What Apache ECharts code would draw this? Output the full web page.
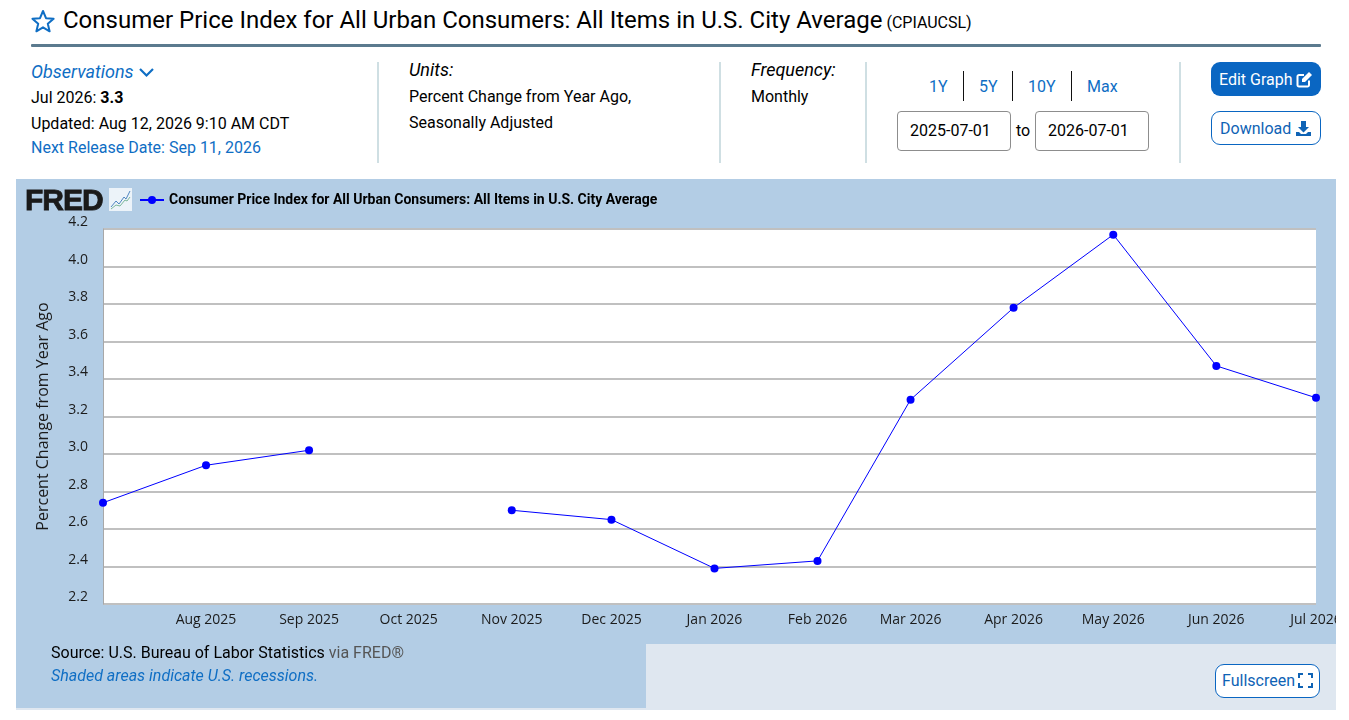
<!DOCTYPE html>
<html><head><meta charset="utf-8">
<script src="https://cdn.jsdelivr.net/npm/echarts@6/dist/echarts.min.js"></script>
<style>
html,body{margin:0;padding:0;background:#fff;width:1349px;height:720px;overflow:hidden;font-family:Roboto,sans-serif;color:#000}
.t{position:absolute;white-space:nowrap;line-height:20px;font-size:16px}
.link{color:#0f6ec4}
.sep{position:absolute;top:62px;height:101px;width:2px;background:#cfdfe3}
.pipe{position:absolute;top:71px;height:30px;width:1px;background:#111}
.inp{position:absolute;top:111px;width:112px;height:38px;border:1px solid #8d8d8d;border-radius:4px;text-align:left;text-indent:12px;line-height:38px;font-size:16px}
.btn{position:absolute;border-radius:9px;box-sizing:border-box;text-align:left;font-size:16px;white-space:nowrap}
#chart{position:absolute;left:16px;top:179px;width:1320px;height:531px}
#foot{position:absolute;left:646px;top:644px;width:690px;height:64px;background:#dfe7f0}
#strip{position:absolute;left:16px;top:708px;width:1320px;height:2px;background:#dfe7f0}
</style></head><body>
<svg style="position:absolute;left:31px;top:9px" width="24" height="24" viewBox="0 0 24 24"><path d="M12 2l3 7.2 7.6.6-5.8 5 1.8 7.5L12 18.300l-6.600 4 1.800-7.500-5.800-5L9 9.200z" fill="none" stroke="#0f6ec4" stroke-width="2" stroke-linejoin="round"/></svg>
<div class="t" style="left:63px;top:5px;font-size:24px;line-height:30px">Consumer Price Index for All Urban Consumers: All Items in U.S. City Average<span style="font-size:16px;margin-left:4px">(CPIAUCSL)</span></div>
<div style="position:absolute;left:31px;top:44px;width:1290px;height:3px;background:#5b7a8e;border-radius:1px"></div>

<div class="t link" style="left:31px;top:62px;font-size:18px;font-style:italic">Observations</div>
<svg style="position:absolute;left:138px;top:67px" width="17" height="11" viewBox="0 0 17 11"><path d="M2 2l6.500 6.500L15 2" fill="none" stroke="#0f6ec4" stroke-width="2.200"/></svg>
<div class="t" style="left:31px;top:88px">Jul 2026: <b>3.3</b></div>
<div class="t" style="left:31px;top:114px">Updated: Aug 12, 2026 9:10 AM CDT</div>
<div class="t link" style="left:31px;top:138px">Next Release Date: Sep 11, 2026</div>
<div class="sep" style="left:377px"></div>
<div class="t" style="left:409px;top:60px;font-size:18px;font-style:italic">Units:</div>
<div class="t" style="left:409px;top:87px">Percent Change from Year Ago,</div>
<div class="t" style="left:409px;top:113px">Seasonally Adjusted</div>
<div class="sep" style="left:719px"></div>
<div class="t" style="left:751px;top:60px;font-size:18px;font-style:italic">Frequency:</div>
<div class="t" style="left:751px;top:87px">Monthly</div>
<div class="sep" style="left:865px"></div>
<div class="t link" style="left:929px;top:77px">1Y</div><div class="pipe" style="left:963px"></div>
<div class="t link" style="left:979px;top:77px">5Y</div><div class="pipe" style="left:1012px"></div>
<div class="t link" style="left:1028px;top:77px">10Y</div><div class="pipe" style="left:1071px"></div>
<div class="t link" style="left:1087px;top:77px">Max</div>
<div class="inp" style="left:897px">2025-07-01</div>
<div class="t" style="left:1016px;top:121px">to</div>
<div class="inp" style="left:1035px">2026-07-01</div>
<div class="sep" style="left:1179px"></div>
<div class="btn" style="left:1211px;top:62px;width:110px;height:34px;background:#0a66c2;color:#fff;padding:8px 0 0 8px;line-height:20px">Edit Graph</div>
<svg style="position:absolute;left:1296px;top:71px" width="17" height="17" viewBox="0 0 17 17"><path d="M13 9.500V14a1.500 1.500 0 0 1-1.500 1.500H3A1.500 1.500 0 0 1 1.500 14V5.500A1.500 1.500 0 0 1 3 4h5" fill="none" stroke="#fff" stroke-width="2"/><path d="M6 8l7-7 3 3-7 7H6z" fill="#fff"/></svg>
<div class="btn" style="left:1211px;top:111px;width:110px;height:34px;border:1px solid #0a66c2;color:#0f63b5;padding:7px 0 0 8px;line-height:20px">Download</div>
<svg style="position:absolute;left:1295px;top:120px" width="17" height="17" viewBox="0 0 17 17"><path d="M6 1h5v6h3l-5.500 5.500L3 7h3z" fill="#0f63b5"/><path d="M1 12h3l2 2h5l2-2h3v4H1z" fill="#0f63b5"/></svg>

<div id="chart"></div>
<div style="position:absolute;left:25px;top:184px;font:bold 30px/32px 'Liberation Sans',sans-serif;color:#1a1a1a;letter-spacing:-1px;-webkit-text-stroke:.8px #1a1a1a">FRED</div>
<svg style="position:absolute;left:109px;top:188px" width="23" height="23" viewBox="0 0 23 23"><rect width="23" height="23" fill="#fff" opacity=".75"/><path d="M2 19l5-6 3 3 5-7 2 2 4-8" fill="none" stroke="#4f86c0"/><path d="M2 21l5-4 4 1 5-6 2 1 3-4" fill="none" stroke="#7cb79a"/></svg>
<div id="foot"></div><div id="strip"></div>
<div class="t" style="left:51px;top:643px">Source: U.S. Bureau of Labor Statistics <span style="color:#555">via FRED®</span></div>
<div class="t link" style="left:51px;top:666px;font-style:italic">Shaded areas indicate U.S. recessions.</div>
<div class="btn" style="left:1215px;top:664px;width:105px;height:34px;border:1px solid #0a66c2;background:#fff;color:#0f63b5;padding:6px 0 0 6px;line-height:20px">Fullscreen</div>
<svg style="position:absolute;left:1298px;top:673px" width="15" height="15" viewBox="0 0 15 15"><path d="M1 5V1h4M10 1h4v4M14 10v4h-4M5 14H1v-4" fill="none" stroke="#0f63b5" stroke-width="2"/></svg>

<script>
const seriesName = 'Consumer Price Index for All Urban Consumers: All Items in U.S. City Average';
const months = ['2025-07-01','2025-08-01','2025-09-01','2025-10-01','2025-11-01','2025-12-01','2026-01-01','2026-02-01','2026-03-01','2026-04-01','2026-05-01','2026-06-01','2026-07-01'];
const values = [2.74,2.94,3.02,null,2.70,2.65,2.39,2.43,3.29,3.78,4.17,3.47,3.30];
const tickLabels = ['','Aug 2025','Sep 2025','Oct 2025','Nov 2025','Dec 2025','Jan 2026','Feb 2026','Mar 2026','Apr 2026','May 2026','Jun 2026','Jul 2026'];
const yTicks = {min:2.2,max:4.2,interval:0.2};

const ts = s => new Date(s+'T00:00:00').getTime();
const monthTimes = months.map(ts);
const chart = echarts.init(document.getElementById('chart'),null,{renderer:'canvas'});
chart.setOption({
  animation:false,
  backgroundColor:'#b3cde5',
  legend:{left:118,top:9,itemWidth:24,itemHeight:10,itemGap:4,
    lineStyle:{width:2},
    textStyle:{fontFamily:'Roboto',fontWeight:'bold',fontSize:14,color:'#000'},
    data:[seriesName]},
  grid:{left:87,right:20,top:50,bottom:106,backgroundColor:'#fff',show:true,borderWidth:0,outerBoundsMode:'none'},
  xAxis:{type:'time',min:monthTimes[0],max:monthTimes[12],minInterval:28*864e5,maxInterval:31*864e5,
    axisLine:{show:false},axisTick:{show:false},splitLine:{show:false},
    axisLabel:{hideOverlap:false,showMinLabel:false,showMaxLabel:true,
      fontFamily:'Open Sans',fontSize:14,color:'#1b1b1b',margin:9,
      formatter:v=>tickLabels[monthTimes.indexOf(v)]||''}},
  yAxis:{type:'value',min:yTicks.min,max:yTicks.max,interval:yTicks.interval,
    name:'Percent Change from Year Ago',nameLocation:'middle',nameGap:52,nameRotate:90,
    nameTextStyle:{fontFamily:'Open Sans',fontSize:16,color:'#1b1b1b'},
    axisLine:{show:true,lineStyle:{color:'#a8a8a8',width:1}},axisTick:{show:false},
    splitLine:{lineStyle:{color:'#c0c0c0',width:2}},
    axisLabel:{fontFamily:'Open Sans',fontSize:14,lineHeight:13,color:'#1b1b1b',margin:15,verticalAlign:'bottom',
      formatter:v=>v.toFixed(1)}},
  series:[{name:seriesName,type:'line',showSymbol:true,symbol:'circle',symbolSize:8,connectNulls:false,
    clip:false,
    itemStyle:{color:'#0000ff'},lineStyle:{color:'#0000ff',width:1},
    data:months.map((m,i)=>[monthTimes[i],values[i]])}]
});
</script>
</body></html>
